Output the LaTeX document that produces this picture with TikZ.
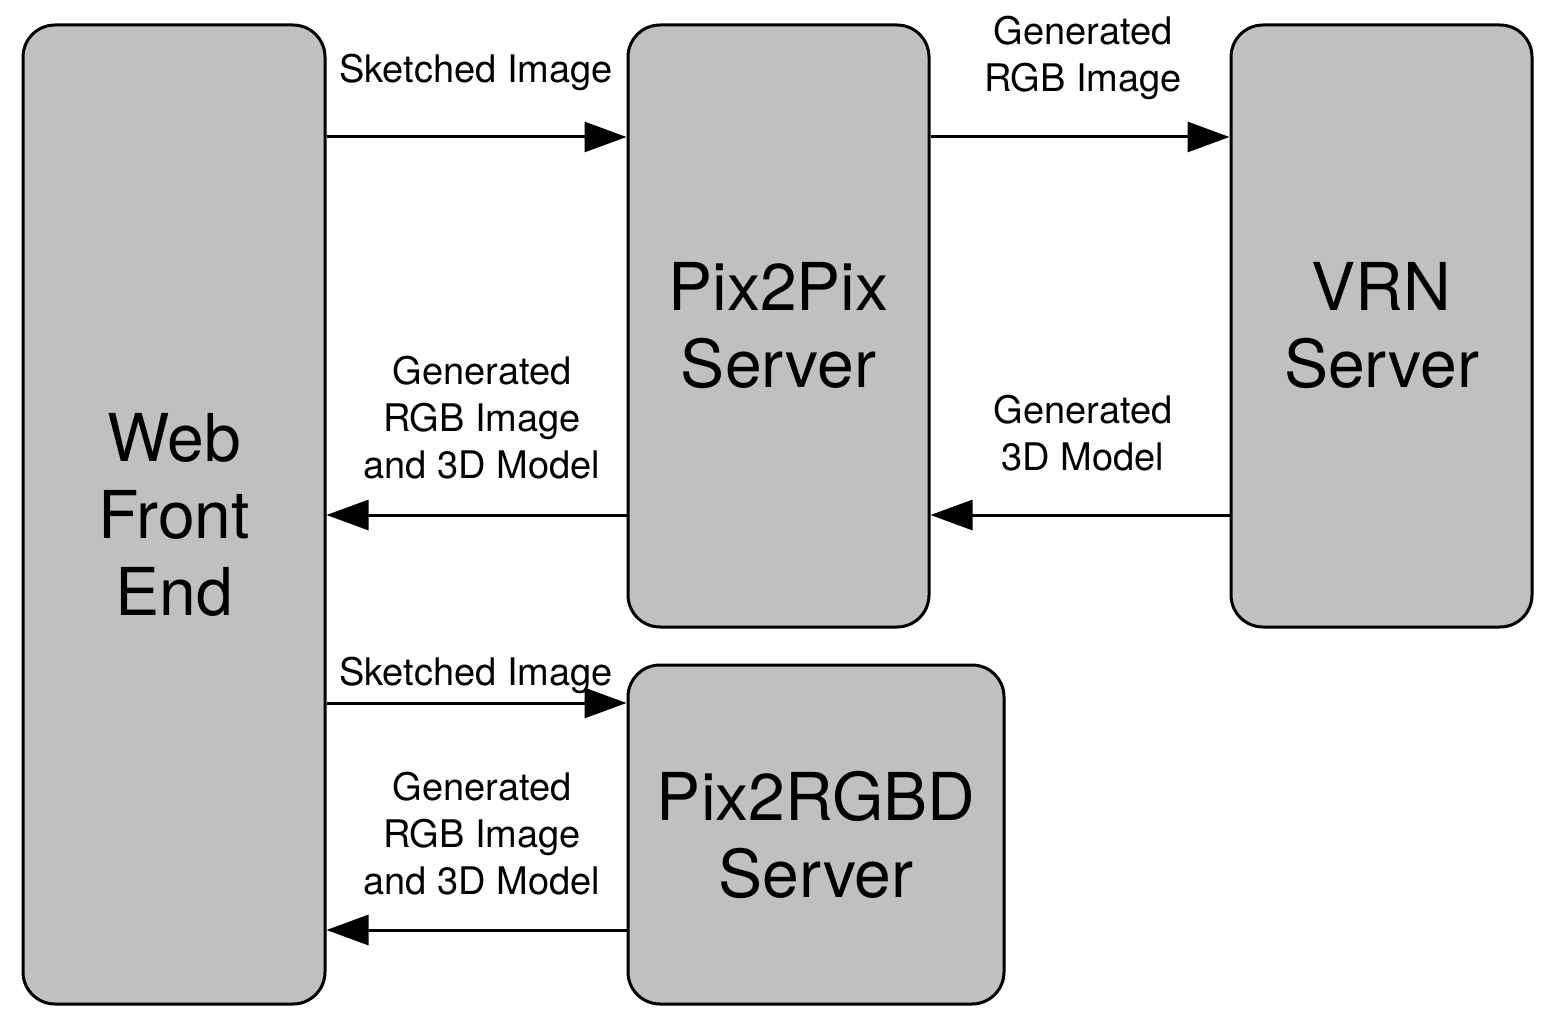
\documentclass[tikz,border=0pt]{standalone}
\usepackage{fontspec}
\setmainfont{TeX Gyre Heros}
\usetikzlibrary{arrows.meta}
\definecolor{boxgray}{HTML}{C0C0C0}
\tikzset{
  srv/.style={draw=black, fill=boxgray, line width=3pt, rounded corners=32pt,
    inner sep=0pt, align=center, font=\fontsize{66}{77}\selectfont},
  lbl/.style={align=center, inner sep=0pt, anchor=base, font=\fontsize{38}{47}\selectfont},
  arr/.style={line width=3pt, -{Triangle[length=42pt,width=30pt]}}
}
\begin{document}
\begin{tikzpicture}[x=1pt,y=-1pt]
\useasboundingbox (0,0) rectangle (1554,1032);
\node[srv, minimum width=302pt, minimum height=979pt] (web) at (174,514.5) {Web\\Front\\End};
\node[srv, minimum width=301pt, minimum height=602pt] (pix) at (778.5,326) {Pix2Pix\\Server};
\node[srv, minimum width=301pt, minimum height=602pt] (vrn) at (1381.5,326) {VRN\\Server};
\node[srv, minimum width=376pt, minimum height=339pt] (rgbd) at (816,834.5) {Pix2RGBD\\Server};
\coordinate (r1) at (0,137);
\coordinate (r2) at (0,515);
\coordinate (r3) at (0,703);
\coordinate (r4) at (0,930);
\draw[arr] (web.east |- r1) -- (pix.west |- r1);
\draw[arr] (pix.east |- r1) -- (vrn.west |- r1);
\draw[arr] (pix.west |- r2) -- (web.east |- r2);
\draw[arr] (vrn.west |- r2) -- (pix.east |- r2);
\draw[arr] (web.east |- r3) -- (rgbd.west |- r3);
\draw[arr] (rgbd.west |- r4) -- (web.east |- r4);
\node[lbl] (l1) at (476,83) {Sketched Image};
\node[lbl] (l2) at (1083,92) {Generated\\RGB Image};
\node[lbl] (l3) at (482,478) {Generated\\RGB Image\\and 3D Model};
\node[lbl] (l4) at (1083,470) {Generated\\3D Model};
\node[lbl] (l5) at (476,685) {Sketched Image};
\node[lbl] (l6) at (482,894) {Generated\\RGB Image\\and 3D Model};
\end{tikzpicture}
\end{document}
